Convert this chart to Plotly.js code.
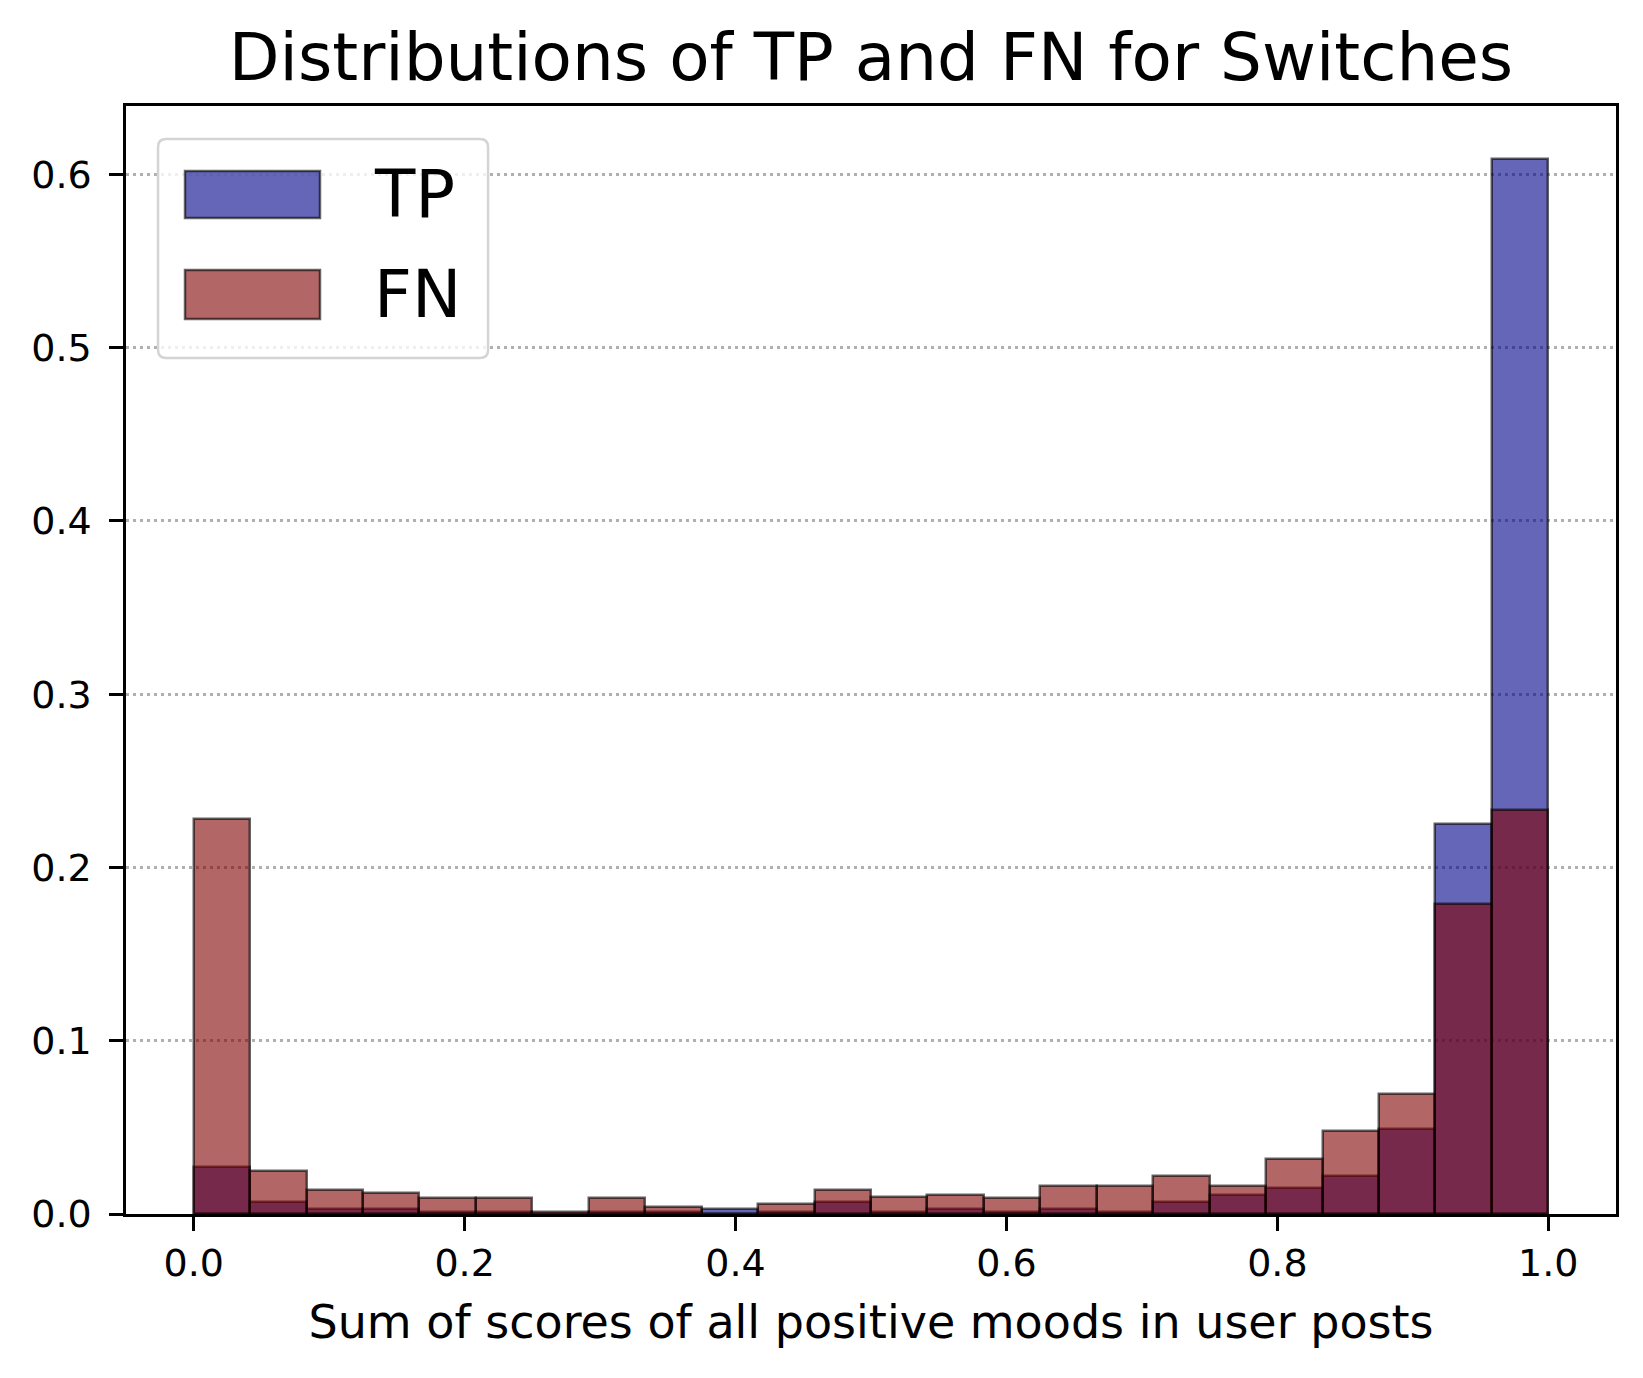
<!DOCTYPE html>
<html lang="en">
<head>
    <meta charset="UTF-8">
    <title>TP and FN distributions</title>
    <script src="https://cdn.plot.ly/plotly-3.0.1.min.js"></script>
    <style>
        body { margin: 0; background: white; }
    </style>
</head>

<body>
<div id="plot"></div>

<script>

    // 24 equal bins on [0, 1], heights are fractions (each series sums to ~1)
    const nBins = 24
    const tpValues = [0.027, 0.007, 0.003, 0.003, 0.001, 0.001, 0.0, 0.001,
                      0.001, 0.003, 0.001, 0.007, 0.001, 0.003, 0.001, 0.003,
                      0.001, 0.007, 0.011, 0.015, 0.022, 0.049, 0.225, 0.609]
    const fnValues = [0.228, 0.025, 0.014, 0.012, 0.009, 0.009, 0.0014, 0.009,
                      0.004, 0.0, 0.006, 0.014, 0.0097, 0.0108, 0.009, 0.016,
                      0.016, 0.022, 0.016, 0.032, 0.048, 0.069, 0.179, 0.233]
    const seriesNames = ['TP', 'FN']
    const xTicks = [0, 0.2, 0.4, 0.6, 0.8, 1.0]

    const binWidth = 1 / nBins
    const binCenters = tpValues.map((_, i) => (i + 0.5) * binWidth)

    const tpColor = 'rgba(0,0,139,0.6)'
    const fnColor = 'rgba(128,0,0,0.6)'
    const edgeColor = 'rgba(0,0,0,0.6)'
    const font = 'DejaVu Sans, sans-serif'

    const dataTP = {
        x: binCenters,
        y: tpValues,
        width: binWidth,
        type: 'bar',
        name: seriesNames[0],
        marker: { color: tpColor, line: { color: edgeColor, width: 2.5 } },
        hoverinfo: 'x+y+name'
    }

    const dataFN = {
        x: binCenters,
        y: fnValues,
        width: binWidth,
        type: 'bar',
        name: seriesNames[1],
        marker: { color: fnColor, line: { color: edgeColor, width: 2.5 } },
        hoverinfo: 'x+y+name'
    }

    // hand-made legend, matplotlib style (big swatches, rounded frame)
    function roundedRect(x0, y0, x1, y1, rx, ry) {
        return 'M' + (x0 + rx) + ',' + y0 +
            ' L' + (x1 - rx) + ',' + y0 + ' Q' + x1 + ',' + y0 + ' ' + x1 + ',' + (y0 + ry) +
            ' L' + x1 + ',' + (y1 - ry) + ' Q' + x1 + ',' + y1 + ' ' + (x1 - rx) + ',' + y1 +
            ' L' + (x0 + rx) + ',' + y1 + ' Q' + x0 + ',' + y1 + ' ' + x0 + ',' + (y1 - ry) +
            ' L' + x0 + ',' + (y0 + ry) + ' Q' + x0 + ',' + y0 + ' ' + (x0 + rx) + ',' + y0 + ' Z'
    }

    const legendShapes = [
        {
            type: 'path', xref: 'paper', yref: 'paper',
            path: roundedRect(0.0215, 0.7726, 0.243, 0.9702, 0.0055, 0.0072),
            fillcolor: 'rgba(255,255,255,0.8)',
            line: { color: '#d4d4d4', width: 2.5 }
        },
        {
            type: 'rect', xref: 'paper', yref: 'paper',
            x0: 0.0396, x1: 0.1302, y0: 0.8989, y1: 0.9413,
            fillcolor: tpColor, line: { color: edgeColor, width: 2.5 }
        },
        {
            type: 'rect', xref: 'paper', yref: 'paper',
            x0: 0.0396, x1: 0.1302, y0: 0.8078, y1: 0.852,
            fillcolor: fnColor, line: { color: edgeColor, width: 2.5 }
        }
    ]

    const legendLabels = [
        { text: seriesNames[0], y: 0.9201 },
        { text: seriesNames[1], y: 0.8299 }
    ].map(l => ({
        text: l.text, x: 0.165, y: l.y, xref: 'paper', yref: 'paper',
        xanchor: 'left', yanchor: 'middle', showarrow: false,
        font: { family: font, size: 66, color: 'black' }
    }))

    const layout = {
        width: 1643,
        height: 1378,
        margin: { l: 126, r: 27, t: 106, b: 164 },
        paper_bgcolor: 'white',
        plot_bgcolor: 'white',
        barmode: 'overlay',
        bargap: 0,
        showlegend: false,
        font: { family: font, color: 'black' },
        title: {
            text: 'Distributions of TP and FN for Switches',
            font: { family: font, size: 66, color: 'black' },
            x: 0.5, xref: 'paper',
            y: 1 - 57 / 1378, yref: 'container', yanchor: 'middle'
        },
        xaxis: {
            range: [-0.05, 1.05],
            tickvals: xTicks,
            tickformat: '.1f',
            ticks: 'outside', ticklen: 14, tickwidth: 2.5, tickcolor: 'black',
            tickfont: { family: font, size: 38, color: 'black' },
            showline: true, linecolor: 'black', linewidth: 2.5, mirror: true,
            showgrid: false, zeroline: false,
            title: {
                text: 'Sum of scores of all positive moods in user posts',
                font: { family: font, size: 46, color: 'black' },
                standoff: 22
            }
        },
        yaxis: {
            range: [0, 0.6395],
            dtick: 0.1, tick0: 0,
            tickformat: '.1f',
            ticks: 'outside', ticklen: 14, tickwidth: 2.5, tickcolor: 'black',
            ticklabelstandoff: 10,
            tickfont: { family: font, size: 38, color: 'black' },
            showline: true, linecolor: 'black', linewidth: 2.5, mirror: true,
            showgrid: true, gridcolor: '#b0b0b0', gridwidth: 2.5, griddash: '3px,4px',
            zeroline: false,
            layer: 'above traces'
        },
        shapes: legendShapes,
        annotations: legendLabels
    }

    Plotly.newPlot('plot', [dataTP, dataFN], layout, { displayModeBar: false })

</script>

</body>
</html>
